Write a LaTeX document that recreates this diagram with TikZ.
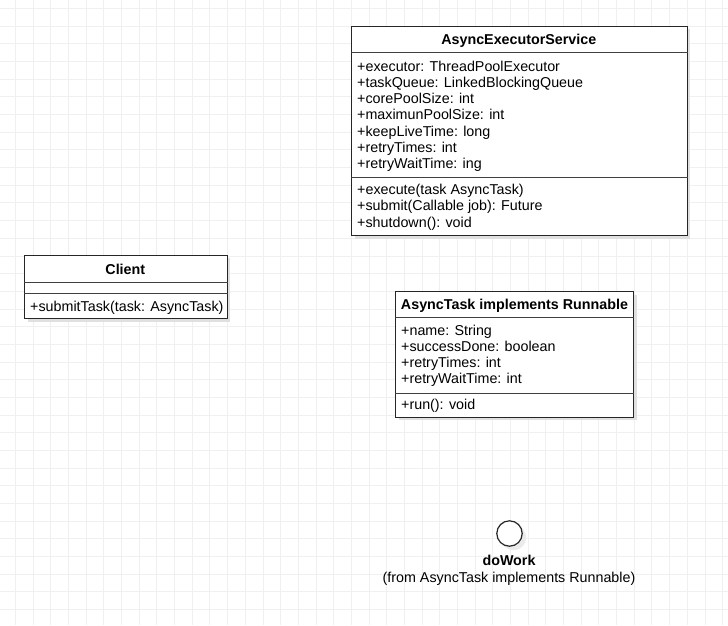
\documentclass[tikz,border=0pt]{standalone}
\usepackage{fontspec}
\setmainfont{Liberation Sans}
\usetikzlibrary{shadows}

\tikzset{
  gridline/.style={black!6, line width=0.6pt},
  classbox/.style={rectangle, draw=black!85, line width=1.1pt, fill=white, inner sep=0, anchor=north west,
    drop shadow={shadow xshift=3pt, shadow yshift=-3pt, fill=black!12, opacity=1}},
  sepline/.style={black!75, line width=1.1pt},
  member/.style={anchor=base west, inner sep=0, font=\fontsize{14.3}{16}\selectfont},
  classname/.style={anchor=base, inner sep=0, font=\fontsize{14.3}{16}\selectfont\bfseries},
}

\begin{document}
\begin{tikzpicture}[x=1pt,y=-1pt]
\fill[white] (0,0) rectangle (728,625);
\useasboundingbox (0,0) rectangle (728,625);
% background grid
\foreach \k in {0,...,40} \draw[gridline] (15.3+17.68*\k,0) --++(0,625);
\foreach \k in {0,...,34} \draw[gridline] (0,8.3+17.68*\k) --++(728,0);

% AsyncExecutorService
\node[classbox, minimum width=335.7pt, minimum height=209.3pt] (svc) at (351,25.7) {};
\draw[sepline] (svc.west |- 0,52.3) -- (svc.east |- 0,52.3);
\draw[sepline] (svc.west |- 0,177.7) -- (svc.east |- 0,177.7);
\node[classname] (svc-name) at (518.8,44.5) {AsyncExecutorService};
\foreach \txt [count=\i from 0] in {+executor: ThreadPoolExecutor, +taskQueue: LinkedBlockingQueue,
  +corePoolSize: int, +maximunPoolSize: int, +keepLiveTime: long, +retryTimes: int, +retryWaitTime: ing}
 \node[member] (svc-attr\i) at (357,71+16.3*\i) {\txt};
\foreach \txt [count=\i from 0] in {+execute(task AsyncTask), +submit(Callable job): Future, +shutdown(): void}
 \node[member] (svc-op\i) at (357,194.5+16.3*\i) {\txt};

% Client
\node[classbox, minimum width=202.7pt, minimum height=63.6pt] (client) at (24,254.7) {};
\draw[sepline] (client.west |- 0,282.3) -- (client.east |- 0,282.3);
\draw[sepline] (client.west |- 0,293.3) -- (client.east |- 0,293.3);
\node[classname] (client-name) at (125.3,274) {Client};
\node[member] (client-op0) at (30,311.5) {+submitTask(task: AsyncTask)};

% AsyncTask
\node[classbox, minimum width=238.3pt, minimum height=125.7pt] (task) at (395,291) {};
\draw[sepline] (task.west |- 0,317.7) -- (task.east |- 0,317.7);
\draw[sepline] (task.west |- 0,393.3) -- (task.east |- 0,393.3);
\node[classname] (task-name) at (514.5,309.5) {AsyncTask implements Runnable};
\foreach \txt [count=\i from 0] in {+name: String, +successDone: boolean, +retryTimes: int, +retryWaitTime: int}
 \node[member] (task-attr\i) at (401,335+16.3*\i) {\txt};
\node[member] (task-op0) at (401,409) {+run(): void};

% interface doWork
\node[circle, draw=black!85, line width=1.2pt, fill=white, minimum size=25.4pt, inner sep=0,
  drop shadow={shadow xshift=4pt, shadow yshift=-4pt, fill=black!8, opacity=1}] (work) at (509.5,533.5) {};
\node[classname] (work-name) at (509,565) {doWork};
\node[member, anchor=base] (work-from) at (509,582) {(from AsyncTask implements Runnable)};
\end{tikzpicture}
\end{document}
